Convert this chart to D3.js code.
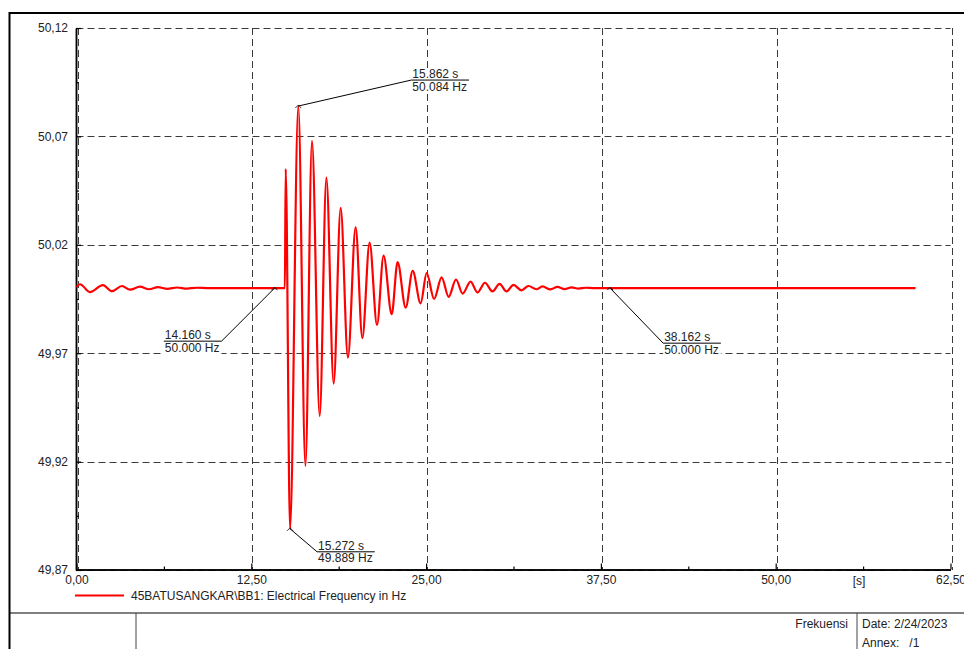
<!DOCTYPE html>
<html>
<head>
<meta charset="utf-8">
<script src="https://cdn.jsdelivr.net/npm/d3@7"></script>
<style>
  body { margin: 0; background: #fff; }
  svg text { font-family: "Liberation Sans", Arial, sans-serif; font-size: 12px; fill: #222; white-space: pre; }
</style>
</head>
<body>
<div id="chart"></div>
<script>
// data (time in s, frequency in Hz)
var timeS = [0, 0.25, 0.96, 1.89, 2.54, 3.25, 3.82, 4.54, 5.18, 5.82,
  6.5, 7.2, 7.9, 8.6, 9.5, 14.16, 14.90, 14.96, 15.272, 15.862,
  16.37, 16.84, 17.39, 17.87, 18.39, 18.89, 19.41, 19.96, 20.44, 20.96,
  21.49, 21.96, 22.54, 22.96, 23.54, 24.04, 24.61, 25.04, 25.57, 26.11,
  26.61, 27.14, 27.61, 28.18, 28.68, 29.21, 29.75, 30.25, 30.75, 31.25,
  31.82, 32.32, 32.89, 33.32, 33.89, 34.39, 34.9, 35.4, 35.9, 36.4,
  37.0, 38.162, 60.0];
var freqHz = [50.0005, 50.0018, 49.9982, 50.0014, 49.9986, 50.001, 49.9993, 50.0007, 49.9995, 50.0005,
  49.9997, 50.0003, 49.9998, 50.0002, 50.0, 50.0, 50.0, 50.055, 49.889, 50.084,
  49.918, 50.068, 49.941, 50.051, 49.956, 50.037, 49.968, 50.028, 49.977, 50.021,
  49.983, 50.015, 49.988, 50.012, 49.991, 50.008, 49.993, 50.007, 49.995, 50.005,
  49.996, 50.004, 49.9975, 50.003, 49.998, 50.0025, 49.9985, 50.002, 49.9985, 50.0015,
  49.999, 50.001, 49.9995, 50.0008, 49.9994, 50.0006, 49.9996, 50.0004, 49.9998, 50.0002,
  50.0, 50.0, 50.0];

var xTicks = [0, 12.5, 25, 37.5, 50, 62.5];
var xMinor = [6.25, 18.75, 31.25, 43.75, 56.25];
var yTicks = [49.87, 49.92, 49.97, 50.02, 50.07, 50.12];
var yMinor = [49.895, 49.945, 49.995, 50.045, 50.095];

// annotated points: time, value
var markT = [15.862, 14.160, 15.272, 38.162];
var markV = [50.084, 50.000, 49.889, 50.000];

var legendLabel = "45BATUSANGKAR\\BB1: Electrical Frequency in Hz";
var footerTitle = "Frekuensi";
var footerDate = "Date: 2/24/2023";
var footerAnnex = "Annex:   /1";

var svgWidth = 964;
var svgHeight = 649;

var svg = d3.select("#chart")
  .append("svg")
  .attr("width", svgWidth)
  .attr("height", svgHeight);

var x = d3.scaleLinear().domain([0, 62.5]).range([76.5, 950.5]);
var y = d3.scaleLinear().domain([49.87, 50.12]).range([570, 28]);

var comma = v => d3.format(".2f")(v).replace(".", ",");

// outer frame
svg.append("line").attr("x1", 9.5).attr("x2", 9.5).attr("y1", 12).attr("y2", svgHeight)
  .attr("stroke", "#000").attr("stroke-width", 2);
svg.append("line").attr("x1", 9).attr("x2", svgWidth).attr("y1", 13).attr("y2", 13)
  .attr("stroke", "#000").attr("stroke-width", 2);

// grid
var grid = svg.append("g").attr("stroke", "#3a3a3a").attr("stroke-width", 1).attr("stroke-dasharray", "7,4");
grid.selectAll(".vg").data(xTicks).enter().append("line")
  .attr("x1", d => Math.round(x(d)) + 1.5).attr("x2", d => Math.round(x(d)) + 1.5)
  .attr("y1", y(50.12)).attr("y2", y(49.87));
grid.selectAll(".hg").data(yTicks).enter().append("line")
  .attr("x1", x(0)).attr("x2", x(62.5))
  .attr("y1", d => Math.round(y(d)) + 0.5).attr("y2", d => Math.round(y(d)) + 0.5);

// axes
var leftAxis = d3.axisLeft(y).tickValues(yTicks).tickSize(-5).tickSizeOuter(0).tickPadding(8).tickFormat(comma);
var leftMinor = d3.axisLeft(y).tickValues(yMinor).tickSize(-3).tickSizeOuter(0).tickFormat("");
var bottomAxis = d3.axisBottom(x).tickValues(xTicks).tickSize(-6).tickSizeOuter(0).tickPadding(6).tickFormat(comma);
var bottomMinor = d3.axisBottom(x).tickValues(xMinor).tickSize(-3).tickSizeOuter(0).tickFormat("");

var axX = x(0) - 0.5;
var axY = y(49.87) - 0.5;
svg.append("g").attr("transform", `translate(${axX},0)`).call(leftAxis);
svg.append("g").attr("transform", `translate(${axX},0)`).call(leftMinor);
svg.append("g").attr("transform", `translate(0,${axY})`).call(bottomAxis);
svg.append("g").attr("transform", `translate(0,${axY})`).call(bottomMinor);
svg.selectAll(".domain").attr("stroke", "#000").attr("stroke-width", 1.5);
svg.selectAll(".tick line").attr("stroke", "#000").attr("stroke-width", 1.2);
svg.selectAll(".tick text")
  .attr("font-family", null).attr("font-size", null)
  .style("font-family", "'Liberation Sans', Arial, sans-serif")
  .style("font-size", "12px").attr("fill", "#222");

// unit label
svg.append("text")
  .attr("x", x(56.25) - 4).attr("y", 585)
  .attr("text-anchor", "middle")
  .text("[s]");

// curve
var pts = timeS.map((t, i) => [t, freqHz[i]]);
var line = d3.line()
  .x(d => x(d[0]))
  .y(d => y(d[1]))
  .curve(d3.curveMonotoneX);
svg.append("path")
  .datum(pts)
  .attr("d", line)
  .attr("fill", "none")
  .attr("stroke", "#ff0000")
  .attr("stroke-width", 2.2)
  .attr("stroke-linejoin", "round");

// annotations: label offsets (underline start relative to point), side
var annOff = [[113, -26, "r"], [-53, 53, "l"], [27, 23, "r"], [53, 55, "r"]];
markT.forEach(function(t, i) {
  var px = x(t), py = y(markV[i]);
  var off = annOff[i];
  var g = svg.append("g");
  var ux = px + off[0], uy = py + off[1];
  var bg = g.append("rect").attr("fill", "#fff");
  var t1 = g.append("text").attr("y", uy - 2).text(t.toFixed(3) + " s");
  var t2 = g.append("text").attr("y", uy + 10.5).text(markV[i].toFixed(3) + " Hz");
  var w = Math.max(t1.node().getComputedTextLength(), t2.node().getComputedTextLength()) + 3;
  var x0 = off[2] === "r" ? ux : ux - w;
  t1.attr("x", x0 + 1);
  t2.attr("x", x0 + 1);
  bg.attr("x", x0).attr("y", uy - 12).attr("width", w).attr("height", 25);
  g.append("line").attr("x1", x0).attr("x2", x0 + w).attr("y1", uy).attr("y2", uy)
    .attr("stroke", "#000").attr("stroke-width", 1);
  g.append("line").attr("x1", px).attr("y1", py).attr("x2", ux).attr("y2", uy)
    .attr("stroke", "#000").attr("stroke-width", 1);
  g.append("path").attr("d", `M${px - 3},${py + 2}L${px},${py - 1}L${px + 3},${py + 2}`)
    .attr("fill", "none").attr("stroke", "#000").attr("stroke-width", 0.8);
});

// legend
svg.append("line").attr("x1", 75).attr("x2", 124).attr("y1", 595.5).attr("y2", 595.5)
  .attr("stroke", "#ff0000").attr("stroke-width", 2);
svg.append("text").attr("x", 131).attr("y", 600).text(legendLabel);

// footer
svg.append("line").attr("x1", 9).attr("x2", svgWidth).attr("y1", 613).attr("y2", 613)
  .attr("stroke", "#000").attr("stroke-width", 1);
svg.append("line").attr("x1", 136).attr("x2", 136).attr("y1", 613).attr("y2", svgHeight)
  .attr("stroke", "#444").attr("stroke-width", 1);
svg.append("line").attr("x1", 857).attr("x2", 857).attr("y1", 613).attr("y2", svgHeight)
  .attr("stroke", "#444").attr("stroke-width", 1);
svg.append("text").attr("x", 848).attr("y", 628).attr("text-anchor", "end").text(footerTitle);
svg.append("text").attr("x", 862).attr("y", 628).text(footerDate);
svg.append("text").attr("x", 862).attr("y", 647).text(footerAnnex);
</script>
</body>
</html>
